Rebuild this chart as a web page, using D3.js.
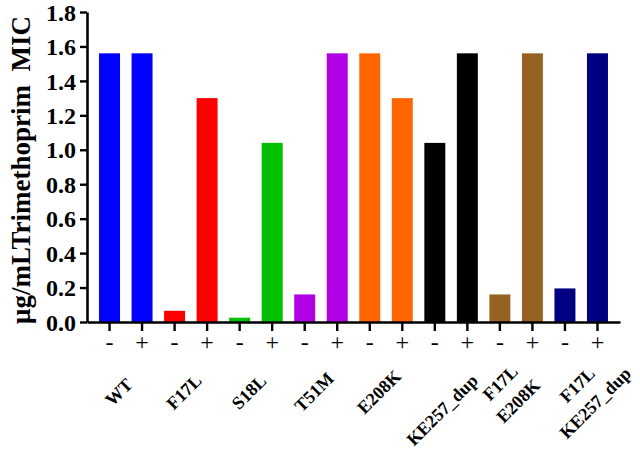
<!DOCTYPE html>
<html>
<head>
<meta charset="utf-8">
<script src="https://cdn.jsdelivr.net/npm/d3@7"></script>
<style>
  body { margin: 0; background: #fff; }
  svg { display: block; }
</style>
</head>
<body>
<div id="chart"></div>
<script>
// Data
const groups = [["WT"], ["F17L"], ["S18L"], ["T51M"], ["E208K"], ["KE257_dup"], ["F17L", "E208K"], ["F17L", "KE257_dup"]];
const treatments = ["-", "+"];
const minusMIC = [1.56, 0.065, 0.025, 0.16, 1.56, 1.04, 0.16, 0.195];
const plusMIC = [1.56, 1.3, 1.04, 1.56, 1.3, 1.56, 1.56, 1.56];
const yTicks = [0, 0.2, 0.4, 0.6, 0.8, 1.0, 1.2, 1.4, 1.6, 1.8];

// Colour for each strain
const groupColors = ["#0000ff", "#ff0000", "#00c000", "#b000e6", "#ff6600", "#000000", "#956221", "#000080"];
const serif = "Liberation Serif";

const width = 640, height = 453;
const svg = d3.select("#chart").append("svg")
  .attr("width", width)
  .attr("height", height);

// one bar per strain x treatment
const bars = groups.flatMap((g, i) => treatments.map(t => ({
  key: i + t,
  group: i,
  treat: t,
  value: t === "-" ? minusMIC[i] : plusMIC[i]
})));

const x = d3.scaleBand()
  .domain(bars.map(d => d.key))
  .range([87, 620])
  .paddingInner(0.355)
  .paddingOuter(0.37);

const y = d3.scaleLinear().domain([0, 1.8]).range([322, 12]);

// Bars
svg.append("g").selectAll("rect")
  .data(bars)
  .join("rect")
  .attr("x", d => x(d.key))
  .attr("y", d => y(d.value))
  .attr("width", x.bandwidth())
  .attr("height", d => y(0) - y(d.value))
  .attr("fill", d => groupColors[d.group]);

// Y axis
const yAxis = svg.append("g")
  .attr("transform", "translate(87,0)")
  .call(d3.axisLeft(y).tickValues(yTicks).tickFormat(d3.format(".1f")).tickSize(7).tickSizeOuter(0).tickPadding(4))
  .attr("font-family", serif)
  .attr("font-size", 24)
  .attr("font-weight", "bold");
yAxis.select(".domain").attr("stroke-width", 2.6);
yAxis.selectAll(".tick line").attr("stroke-width", 2.4);
yAxis.selectAll(".tick text").attr("fill", "#000").attr("dy", "0.34em");

// X axis with - / + tick labels
const xAxis = svg.append("g")
  .attr("transform", "translate(0,322)")
  .call(d3.axisBottom(x).tickFormat(k => k.slice(-1)).tickSize(9).tickSizeOuter(0))
  .attr("font-family", serif)
  .attr("font-size", 24);
xAxis.select(".domain").attr("stroke-width", 2.6);
xAxis.selectAll(".tick line").attr("stroke-width", 2.4);
xAxis.selectAll(".tick text").attr("fill", "#000").attr("y", 28).attr("dy", 0);

// Strain labels, rotated 45 degrees, lines centred in a block
const groupCenter = i => (x(i + "-") + x(i + "+") + x.bandwidth()) / 2;
const labelNudge = { 5: [-2, 18], 7: [12, 2] };
const lineHeight = 25.5;

const labels = svg.append("g")
  .attr("font-family", serif)
  .attr("font-size", 18)
  .attr("font-weight", "bold")
  .selectAll("g")
  .data(groups)
  .join("g")
  .attr("transform", (d, i) => {
    const n = labelNudge[i] || [0, 0];
    return `translate(${groupCenter(i) - 7 + n[0]},${392 + n[1]}) rotate(-45)`;
  });

labels.selectAll("text")
  .data(d => d.map((t, j) => ({ t, j, n: d.length })))
  .join("text")
  .attr("text-anchor", "middle")
  .attr("y", d => (d.j - (d.n - 1) / 2) * lineHeight)
  .attr("dy", "0.34em")
  .text(d => d.t);

// Y axis title
svg.append("text")
  .attr("transform", "translate(30,170) rotate(-90)")
  .attr("text-anchor", "middle")
  .attr("font-family", serif)
  .attr("font-size", 27)
  .attr("font-weight", "bold")
  .attr("xml:space", "preserve")
  .text("μg/mLTrimethoprim  MIC");
</script>
</body>
</html>
